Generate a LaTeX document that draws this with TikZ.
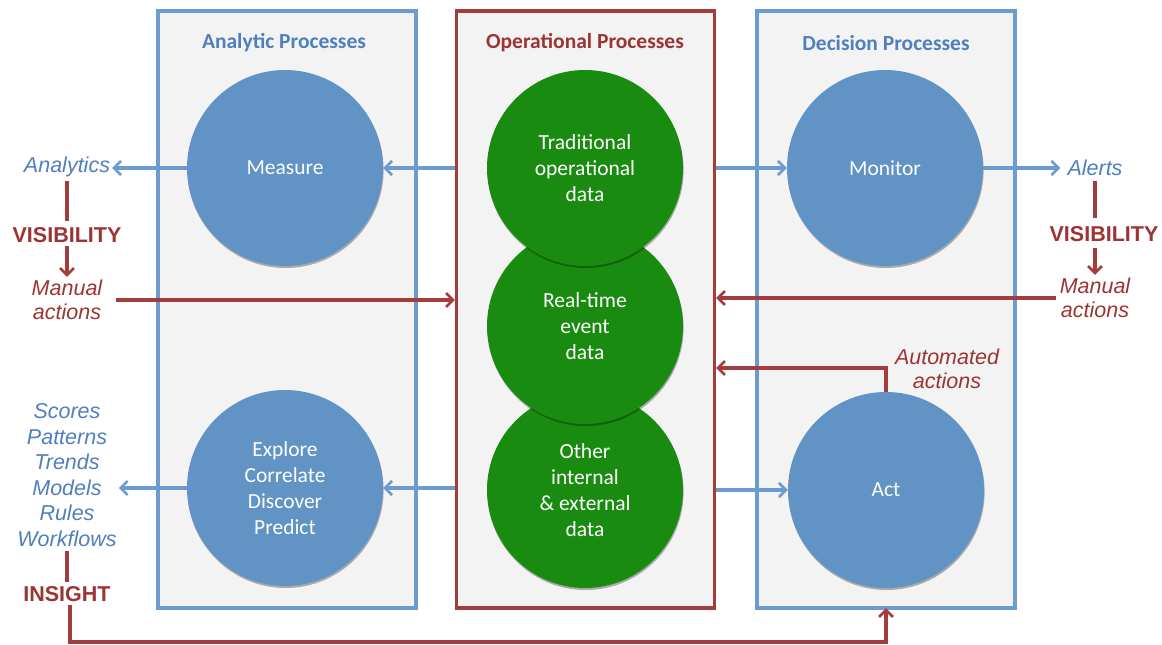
\documentclass[tikz,border=0pt]{standalone}
\usepackage{fontspec}
\setmainfont{Carlito}
\newfontfamily\arialf{Liberation Sans}
\usetikzlibrary{arrows.meta,shadows}
\definecolor{boxblue}{HTML}{6C9BCF}
\definecolor{circblue}{HTML}{6193C4}
\definecolor{txtblue}{HTML}{4F7FBC}
\definecolor{myred}{HTML}{A33D3D}
\definecolor{txtred}{HTML}{9C3434}
\definecolor{mygreen}{HTML}{1A8B11}
\definecolor{boxfill}{HTML}{F3F3F3}
\tikzset{
  procbox/.style={draw=#1, line width=3.2pt, fill=boxfill, minimum width=258pt, minimum height=597pt, inner sep=0pt},
  circ/.style={circle, fill=#1, minimum size=196pt, inner sep=0pt, text=white, align=center,
    font=\fontsize{21.5}{26}\selectfont,
    drop shadow={shadow xshift=0.6pt, shadow yshift=-2pt, opacity=0.3, fill=black}},
  boxtitle/.style={text=#1, font=\fontsize{21.5}{24}\selectfont\bfseries},
  bluelab/.style={text=txtblue, align=center, font=\arialf\itshape\fontsize{21.5}{25.6}\selectfont, inner sep=2pt},
  redlab/.style={text=txtred, align=center, font=\arialf\itshape\fontsize{21.5}{24}\selectfont, inner sep=2pt},
  redbold/.style={text=txtred, font=\arialf\bfseries\fontsize{21.5}{24}\selectfont, inner sep=2pt},
  barrow/.style={draw=boxblue, line width=3.2pt, -{Straight Barb[length=7pt,width=14pt,line width=2.6pt]}},
  rarrow/.style={draw=myred, line width=3.2pt, -{Straight Barb[length=7pt,width=14pt,line width=2.6pt]}},
  rline/.style={draw=myred, line width=3.2pt},
}
\begin{document}
\begin{tikzpicture}[x=1pt,y=-1pt]
\useasboundingbox (0,0) rectangle (1162,645);
% boxes
\node[procbox=boxblue] (abox) at (287,309.5) {};
\node[procbox=myred] (obox) at (585.5,309.5) {};
\node[procbox=boxblue] (dbox) at (886,309.5) {};
\node[boxtitle=txtblue] (atitle) at (284,43) {Analytic Processes};
\node[boxtitle=txtred] (otitle) at (585,43) {Operational Processes};
\node[boxtitle=txtblue] (dtitle) at (886,43) {Decision Processes};
% circles
\node[circ=circblue] (measure) at (285,168) {Measure};
\node[circ=circblue] (explore) at (285,488) {Explore\\Correlate\\Discover\\Predict};
\node[circ=circblue] (monitor) at (885,168) {Monitor};
\node[circ=circblue] (act) at (886,490) {Act};
\node[circ=mygreen] (other) at (585,490) {Other\\internal\\\&~external\\data};
\node[circ=mygreen] (rt) at (585,326) {Real-time\\event\\data};
\node[circ=mygreen] (trad) at (585,168) {Traditional\\operational\\data};
% left labels
\node[bluelab] (analytics) at (67,167) {Analytics};
\node[redbold] (vis1) at (67,235) {VISIBILITY};
\node[redlab] (man1) at (67,300) {Manual\\actions};
\node[bluelab] (list) at (67,475) {Scores\\Patterns\\Trends\\Models\\Rules\\Workflows};
\node[redbold] (insight) at (67,594) {INSIGHT};
% right labels
\node[bluelab] (alerts) at (1095,168) {Alerts};
\node[redbold] (vis2) at (1104,234) {VISIBILITY};
\node[redlab] (man2) at (1095,298) {Manual\\actions};
\node[redlab] (auto) at (947,369) {Automated\\actions};
% blue arrows
\draw[barrow] (measure.west) -- (analytics.east |- measure.west);
\draw[barrow] (obox.west |- measure.east) -- (measure.east);
\draw[barrow] (obox.east |- monitor.west) -- (monitor.west);
\draw[barrow] (monitor.east) -- ([xshift=-5pt]alerts.west |- monitor.east);
\draw[barrow] (explore.west) -- (list.east |- explore.west);
\draw[barrow] (obox.west |- explore.east) -- (explore.east);
\draw[barrow] (obox.east |- act.west) -- (act.west);
% red
\coordinate (v2top) at (1095,181);
\coordinate (v2bot) at (1095,218);
\coordinate (v2arr) at (1095,248);
\draw[rline] ([yshift=-2pt]analytics.south) -- ([yshift=4pt]vis1.north);
\draw[rarrow] ([yshift=-1pt]vis1.south) -- ([yshift=1pt]man1.north);
\draw[rline] (v2top) -- (v2bot);
\draw[rarrow] (v2arr) -- ([yshift=1pt]man2.north -| v2arr);
\draw[rarrow] ([xshift=12pt]man1.east) -- (obox.west |- man1.east);
\draw[rarrow] ([xshift=-2pt]man2.west) -- (obox.east |- man2.west);
\coordinate (autoturn) at (886,368);
\draw[rarrow] (act.north) -- (autoturn) -- (obox.east |- autoturn);
\draw[rline] ([yshift=-2pt]list.south) -- ([yshift=2pt]insight.north);
\coordinate (ibot) at (70,642);
\draw[rarrow] ([xshift=3pt,yshift=-1pt]insight.south) -- (ibot) -| ([yshift=1.5pt]dbox.south);
\end{tikzpicture}
\end{document}
